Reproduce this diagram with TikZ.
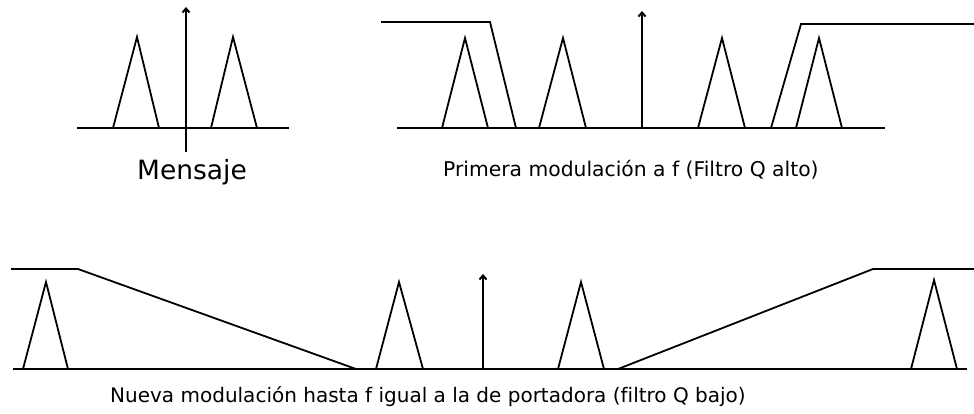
\documentclass[tikz,border=0pt]{standalone}
\usepackage{fontspec}
\setmainfont[Ligatures={NoCommon}]{DejaVu Sans}
\usetikzlibrary{arrows.meta}
\begin{document}
\begin{tikzpicture}[x=1pt,y=-1pt,
  ln/.style={line width=2pt,black},
  tri/.style={line width=1.8pt,black},
  filt/.style={line width=1.8pt,black},
  axis/.style={line width=2pt,black,-{Straight Barb[length=4pt,width=7pt]}},
  lbl/.style={inner sep=0pt,anchor=west},
  small/.style={font=\fontsize{20.3}{24}\selectfont}]
\useasboundingbox (0,0) rectangle (974,413);
% ---------- Panel 1: Mensaje ----------
\draw[ln] (77,128) -- (289,128);
\draw[axis] (186,152) -- (186,7);
\draw[tri] (113,128) -- (137,37) -- (159,128);
\draw[tri] (211,128) -- (233,37) -- (257,128);
\node[lbl,font=\fontsize{26.5}{30}\selectfont] (m) at (137,172) {Mensaje};
% ---------- Panel 2 ----------
\draw[ln] (397,128) -- (885,128);
\draw[axis] (642,128) -- (642,11);
\draw[filt] (381,22) -- (490,22) -- (516,128);
\draw[filt] (771,128) -- (801,24) -- (974,24);
\draw[tri] (442,128) -- (465,38) -- (488,128);
\draw[tri] (539,128) -- (563,38) -- (586,128);
\draw[tri] (698,128) -- (722,38) -- (745,128);
\draw[tri] (796,128) -- (819,38) -- (842,128);
\node[lbl,small] (p) at (443,170) {Primera modulación a f (Filtro Q alto)};
% ---------- Panel 3 ----------
\draw[ln] (13,369) -- (967,369);
\draw[axis] (483,369) -- (483,274);
\draw[filt] (11,269) -- (78,269) -- (356,369);
\draw[filt] (618,369) -- (873,269) -- (974,269);
\draw[tri] (23,369) -- (46,282) -- (68,369);
\draw[tri] (376,369) -- (399,282) -- (423,369);
\draw[tri] (558,369) -- (581,282) -- (604,369);
\draw[tri] (911,369) -- (934,280) -- (957,369);
\node[lbl,font=\fontsize{20}{24}\selectfont] (n) at (110,397) {Nueva modulación hasta f igual a la de portadora (filtro Q bajo)};
\end{tikzpicture}
\end{document}
